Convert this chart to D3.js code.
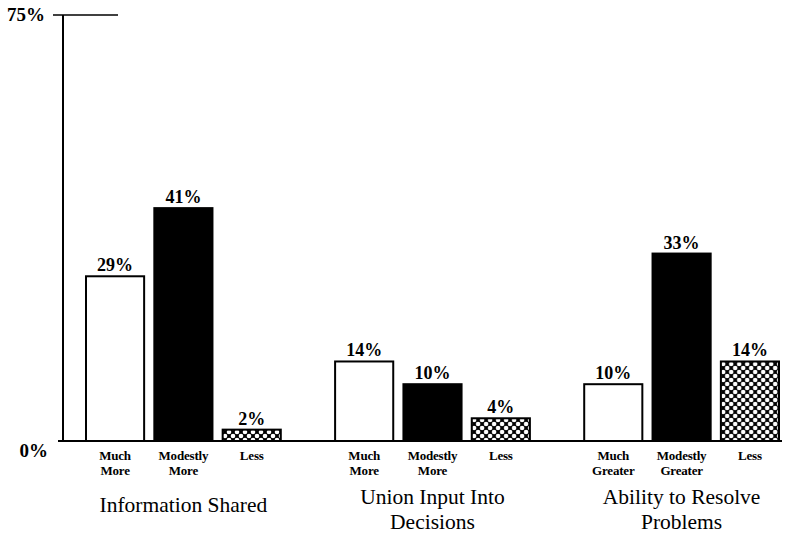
<!DOCTYPE html>
<html><head><meta charset="utf-8">
<script src="https://cdn.jsdelivr.net/npm/d3@7"></script>
<style>
html,body{margin:0;padding:0;background:#fff;}
svg{display:block;}
text{font-family:"Liberation Serif","Times New Roman",serif;fill:#000;}
</style></head>
<body>
<script>
const groups = ["Information Shared", "Union Input Into Decisions", "Ability to Resolve Problems"];
const groupTitleLines = [["Information Shared"], ["Union Input Into", "Decisions"], ["Ability to Resolve", "Problems"]];
const seriesKeys = ["much", "modest", "less"];
const categoryLabels = [
  [["Much", "More"], ["Modestly", "More"], ["Less"]],
  [["Much", "More"], ["Modestly", "More"], ["Less"]],
  [["Much", "Greater"], ["Modestly", "Greater"], ["Less"]]
];
const muchValues = [29, 14, 10];
const modestValues = [41, 10, 33];
const lessValues = [2, 4, 14];
const yTickValues = [0, 75];
const yTickLabels = ["0%", "75%"];

const W = 789, H = 536;
const svg = d3.select("body").append("svg").attr("width", W).attr("height", H);

const defs = svg.append("defs");
const P = 8;
const pat = defs.append("pattern").attr("id", "hatch").attr("patternUnits", "userSpaceOnUse")
  .attr("width", P).attr("height", P);
pat.append("rect").attr("width", P).attr("height", P).attr("fill", "#000");
[[0,0],[P,0],[0,P],[P,P],[P/2,P/2]].forEach(([cx,cy]) =>
  pat.append("circle").attr("cx", cx).attr("cy", cy).attr("r", 2.3).attr("fill", "#fff"));

const y = d3.scaleLinear().domain([0, 75]).range([441, 15]);
const x0 = d3.scaleBand().domain(groups).range([85, 780]).paddingInner(0.21);
const x1 = d3.scaleBand().domain(seriesKeys).range([0, x0.bandwidth()]).paddingInner(0.12);

const data = groups.map((g, i) => ({
  group: g, i,
  vals: [
    {key: "much", v: muchValues[i], j: 0},
    {key: "modest", v: modestValues[i], j: 1},
    {key: "less", v: lessValues[i], j: 2}
  ]
}));

const fills = {much: "#fff", modest: "#000", less: "url(#hatch)"};

// axes
const axisX = 63;
svg.append("line").attr("x1", axisX).attr("x2", axisX).attr("y1", y(75)).attr("y2", y(0))
  .attr("stroke", "#000").attr("stroke-width", 2);
svg.append("line").attr("x1", 53).attr("x2", 118).attr("y1", y(75)).attr("y2", y(75))
  .attr("stroke", "#000").attr("stroke-width", 1.6);
svg.append("line").attr("x1", 58).attr("x2", 782).attr("y1", y(0)).attr("y2", y(0))
  .attr("stroke", "#000").attr("stroke-width", 1.8);

svg.selectAll("text.ytick").data(yTickValues).join("text").attr("class", "ytick")
  .attr("x", (d) => d === 75 ? 45 : 48)
  .attr("y", (d) => d === 75 ? y(d) + 6 : y(d) + 16)
  .attr("text-anchor", "end")
  .attr("font-size", 19).attr("font-weight", "bold")
  .text((d, i) => yTickLabels[i]);

const g = svg.selectAll("g.grp").data(data).join("g").attr("class", "grp")
  .attr("transform", d => `translate(${x0(d.group)},0)`);

g.selectAll("rect").data(d => d.vals).join("rect")
  .attr("x", d => x1(d.key) + 1)
  .attr("width", x1.bandwidth() - 2)
  .attr("y", d => y(d.v))
  .attr("height", d => y(0) - y(d.v))
  .attr("fill", d => fills[d.key])
  .attr("stroke", "#000").attr("stroke-width", 2);

g.selectAll("text.val").data(d => d.vals).join("text").attr("class", "val")
  .attr("x", d => x1(d.key) + x1.bandwidth() / 2)
  .attr("y", d => y(d.v) - 5)
  .attr("text-anchor", "middle").attr("font-size", 18).attr("font-weight", "bold")
  .text(d => `${d.v}%`);

g.each(function(d) {
  const gg = d3.select(this);
  d.vals.forEach(v => {
    const lines = categoryLabels[d.i][v.j];
    lines.forEach((ln, k) => {
      gg.append("text")
        .attr("x", x1(v.key) + x1.bandwidth() / 2)
        .attr("y", 460 + k * 15)
        .attr("text-anchor", "middle").attr("font-size", 13).attr("font-weight", "bold")
        .attr("letter-spacing", -0.2)
        .text(ln);
    });
  });
  const tl = groupTitleLines[d.i];
  tl.forEach((ln, k) => {
    gg.append("text")
      .attr("x", x0.bandwidth() / 2)
      .attr("y", (tl.length === 1 ? 512 : 504) + k * 25)
      .attr("text-anchor", "middle").attr("font-size", 21.5)
      .text(ln);
  });
});
</script>
</body></html>
